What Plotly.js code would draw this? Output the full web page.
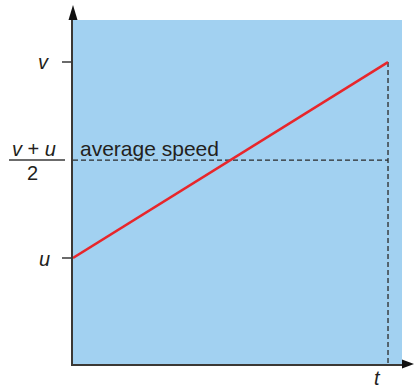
<!DOCTYPE html>
<html>
<head>
<meta charset="utf-8">
<script src="https://cdn.plot.ly/plotly-3.0.1.min.js"></script>
<style>html,body{margin:0;padding:0;background:#fff;}#chart{width:415px;height:388px;}</style>
</head>
<body>
<div id="chart"></div>
<script>
// symbolic values (arbitrary units)
const timeT = 1;        // t
const speedU = 1;       // u (initial speed)
const speedV = 3;       // v (final speed)
const speedAvg = 2;     // (v + u) / 2
const lineX = [0, timeT];
const lineY = [speedU, speedV];
const avgX = [0, timeT];
const avgY = [speedAvg, speedAvg];
const yTickVals = [speedU, speedV];
const yMin = -0.082;
const yMax = 3.43;
const xMax = 1.0444;

const FONT = 'Liberation Sans, Arial, sans-serif';
const TXT = '#231f20';
const AX = '#3b3835';

const traces = [
  {x: avgX, y: avgY, mode: 'lines', line: {color: '#2a2a2a', width: 1.3, dash: '5px,3px'}, hoverinfo: 'skip'},
  {x: [timeT, timeT], y: [speedV, yMin], mode: 'lines', line: {color: '#2a2a2a', width: 1.3, dash: '5px,3px'}, hoverinfo: 'skip'},
  {x: lineX, y: lineY, mode: 'lines', line: {color: '#e8262b', width: 2.5}, hoverinfo: 'skip'}
];

const layout = {
  width: 415, height: 388,
  margin: {l: 73, r: 13, t: 20, b: 24},
  paper_bgcolor: '#ffffff',
  plot_bgcolor: '#a2d1f1',
  showlegend: false,
  font: {family: FONT, color: TXT},
  xaxis: {range: [0, xMax], showgrid: false, zeroline: false, showticklabels: false,
          ticks: '', showline: true, linecolor: AX, linewidth: 2, fixedrange: true},
  yaxis: {range: [yMin, yMax], showgrid: false, zeroline: false, showticklabels: false,
          tickvals: yTickVals, ticks: 'outside', ticklen: 9, tickwidth: 1.5, tickcolor: '#6b6b6b',
          showline: true, linecolor: AX, linewidth: 2, fixedrange: true},
  shapes: [
    // y-axis arrow head
    {type: 'path', xref: 'paper', yref: 'paper', xsizemode: 'pixel', ysizemode: 'pixel',
     xanchor: 0, yanchor: 1, path: 'M-4.5,0 L0,15 L4.5,0 Z', fillcolor: '#111', line: {width: 0}},
    // x-axis arrow head
    {type: 'path', xref: 'paper', yref: 'paper', xsizemode: 'pixel', ysizemode: 'pixel',
     xanchor: 1, yanchor: 0, path: 'M0,-4.5 L12,0 L0,4.5 Z', fillcolor: '#111', line: {width: 0}},
    // fraction bar
    {type: 'line', xref: 'paper', xsizemode: 'pixel', xanchor: 0, x0: -64, x1: -8,
     yref: 'y', y0: speedAvg, y1: speedAvg, line: {color: '#3a3a3a', width: 1.6}}
  ],
  annotations: [
    {xref: 'paper', x: 0, xanchor: 'right', xshift: -22, yref: 'y', y: speedV, yanchor: 'middle',
     text: '<i>v</i>', showarrow: false, font: {size: 20, family: FONT, color: TXT}},
    {xref: 'paper', x: 0, xanchor: 'right', xshift: -21, yref: 'y', y: speedU, yanchor: 'middle', yshift: -1,
     text: '<i>u</i>', showarrow: false, font: {size: 20, family: FONT, color: TXT}},
    {xref: 'paper', x: 0, xanchor: 'center', xshift: -39, yref: 'y', y: speedAvg, yanchor: 'middle', yshift: 11,
     text: '<i>v</i> + <i>u</i>', showarrow: false, font: {size: 20, family: FONT, color: TXT}},
    {xref: 'paper', x: 0, xanchor: 'center', xshift: -41, yref: 'y', y: speedAvg, yanchor: 'middle', yshift: -13,
     text: '2', showarrow: false, font: {size: 20, family: FONT, color: TXT}},
    {xref: 'x', x: 0, xanchor: 'left', xshift: 5, yref: 'y', y: speedAvg, yanchor: 'middle', yshift: 12,
     text: 'average speed', showarrow: false, font: {size: 21, family: FONT, color: TXT}},
    {xref: 'x', x: timeT, xanchor: 'center', xshift: -11, yref: 'paper', y: 0, yanchor: 'middle', yshift: -14,
     text: '<i>t</i>', showarrow: false, font: {size: 20, family: FONT, color: TXT}}
  ]
};

Plotly.newPlot('chart', traces, layout, {displayModeBar: false, staticPlot: true});
</script>
</body>
</html>
